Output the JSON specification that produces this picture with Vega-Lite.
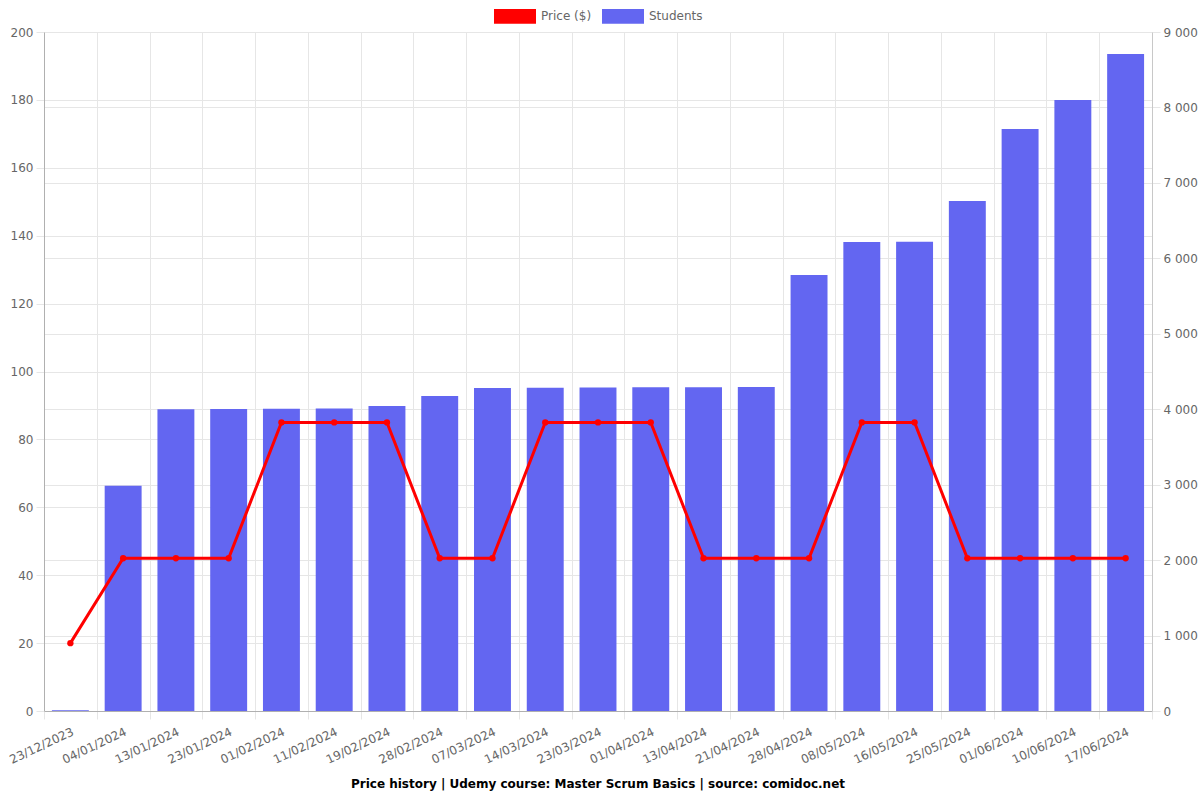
{
  "$schema": "https://vega.github.io/schema/vega-lite/v6.json",
  "width": 1108,
  "height": 679,
  "autosize": "none",
  "padding": {"left": 44, "top": 32, "right": 48, "bottom": 89},
  "background": "white",
  "config": {
    "font": "DejaVu Sans",
    "view": {"stroke": null},
    "locale": {"number": {"decimal": ".", "thousands": " ", "grouping": [3], "currency": ["$", ""]}},
    "axis": {"labelFont": "DejaVu Sans", "labelFontSize": 12, "labelColor": "#666666", "gridColor": "#e6e6e6", "tickColor": "#e6e6e6", "domainColor": "#c8c8c8", "title": null}
  },
  "title": {"text": "Price history | Udemy course: Master Scrum Basics | source: comidoc.net", "orient": "bottom", "fontSize": 12, "fontWeight": "bold", "color": "#000000", "font": "DejaVu Sans", "offset": 14, "anchor": "middle"},
  "data": {"values": [
    {"date": "23/12/2023", "price": 19.99, "students": 10},
    {"date": "04/01/2024", "price": 44.99, "students": 2985},
    {"date": "13/01/2024", "price": 44.99, "students": 4000},
    {"date": "23/01/2024", "price": 44.99, "students": 4003},
    {"date": "01/02/2024", "price": 84.99, "students": 4005},
    {"date": "11/02/2024", "price": 84.99, "students": 4010},
    {"date": "19/02/2024", "price": 84.99, "students": 4043},
    {"date": "28/02/2024", "price": 44.99, "students": 4175},
    {"date": "07/03/2024", "price": 44.99, "students": 4281},
    {"date": "14/03/2024", "price": 84.99, "students": 4285},
    {"date": "23/03/2024", "price": 84.99, "students": 4287},
    {"date": "01/04/2024", "price": 84.99, "students": 4290},
    {"date": "13/04/2024", "price": 44.99, "students": 4292},
    {"date": "21/04/2024", "price": 44.99, "students": 4293},
    {"date": "28/04/2024", "price": 44.99, "students": 5779},
    {"date": "08/05/2024", "price": 84.99, "students": 6217},
    {"date": "16/05/2024", "price": 84.99, "students": 6220},
    {"date": "25/05/2024", "price": 44.99, "students": 6760},
    {"date": "01/06/2024", "price": 44.99, "students": 7715},
    {"date": "10/06/2024", "price": 44.99, "students": 8099},
    {"date": "17/06/2024", "price": 44.99, "students": 8709}
  ]},
  "encoding": {
    "x": {"field": "date", "type": "ordinal", "sort": null,
      "scale": {"paddingInner": 0, "paddingOuter": 0},
      "axis": {"tickBand": "extent", "labelAngle": -25, "labelAlign": "right", "labelBaseline": "top", "tickSize": 8, "labelPadding": 7, "grid": true, "domainColor": "#b0b0b0"}}
  },
  "layer": [
    {
      "mark": {"type": "bar", "width": {"band": 0.7}},
      "encoding": {
        "y": {"field": "students", "type": "quantitative", "scale": {"domain": [0, 9000], "nice": false},
          "axis": {"orient": "right", "values": [0,1000,2000,3000,4000,5000,6000,7000,8000,9000], "format": ",d", "tickSize": 8, "labelPadding": 3, "grid": true}},
        "color": {"datum": "Students", "type": "nominal",
          "scale": {"domain": ["Price ($)", "Students"], "range": ["#ff0000", "#6366f1"]},
          "legend": {"orient": "none", "direction": "horizontal", "legendX": 450, "legendY": -37, "title": null,
            "symbolType": "M-1,-0.35H1V0.35H-1Z", "symbolSize": 1764, "symbolStrokeWidth": 0, "symbolOpacity": 1,
            "labelFontSize": 12, "labelColor": "#666666", "labelFont": "DejaVu Sans", "labelOffset": 5, "columnPadding": 10}}
      }
    },
    {
      "layer": [
        {"mark": {"type": "line", "strokeWidth": 3, "color": "#ff0000"}},
        {"mark": {"type": "point", "filled": true, "size": 40, "opacity": 1, "color": "#ff0000"}}
      ],
      "encoding": {
        "y": {"field": "price", "type": "quantitative", "scale": {"domain": [0, 200], "nice": false},
          "axis": {"orient": "left", "values": [0,20,40,60,80,100,120,140,160,180,200], "tickSize": 8, "labelPadding": 3, "grid": true, "domainColor": "#b0b0b0"}},
        "color": {"datum": "Price ($)", "type": "nominal"}
      }
    }
  ],
  "resolve": {"scale": {"y": "independent"}}
}
